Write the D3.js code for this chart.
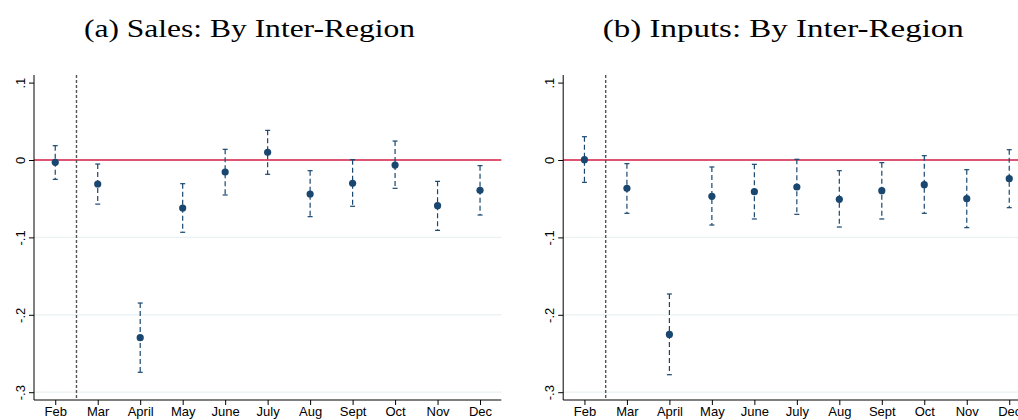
<!DOCTYPE html>
<html>
<head>
<meta charset="utf-8">
<script src="https://cdn.jsdelivr.net/npm/d3@7"></script>
<style>
  body { margin: 0; background: #fff; }
  svg { display: block; }
  .tick text { font-family: "Liberation Sans", Arial, sans-serif; font-size: 13px; fill: #000; }
  .title { font-family: "Liberation Serif", "DejaVu Serif", serif; font-size: 26px; fill: #000; }
</style>
</head>
<body>
<div id="chart"></div>
<script>
var months = ["Feb", "Mar", "April", "May", "June", "July", "Aug", "Sept", "Oct", "Nov", "Dec"];
var yTicks = [0.1, 0, -0.1, -0.2, -0.3];
var yTickLabels = [".1", "0", "-.1", "-.2", "-.3"];

// panel (a) sales
var salesEst = [-0.003, -0.031, -0.2295, -0.062, -0.0155, 0.0099, -0.0439, -0.0301, -0.0065, -0.059, -0.0392];
var salesHi  = [0.0185, -0.0052, -0.1848, -0.0306, 0.0138, 0.0383, -0.0138, 0.0004, 0.0245, -0.0276, -0.0073];
var salesLo  = [-0.025, -0.057, -0.2743, -0.0934, -0.0452, -0.0185, -0.0732, -0.0598, -0.0366, -0.0909, -0.0711];

// panel (b) inputs
var inputsEst = [0.0004, -0.0366, -0.2253, -0.0469, -0.0409, -0.0349, -0.0508, -0.0396, -0.0319, -0.05, -0.0241];
var inputsHi  = [0.0301, -0.0047, -0.1731, -0.009, -0.0056, 0.0009, -0.0138, -0.0034, 0.0056, -0.0125, 0.0133];
var inputsLo  = [-0.0289, -0.0689, -0.2774, -0.084, -0.0762, -0.0702, -0.0866, -0.0762, -0.0689, -0.0874, -0.0616];

var W = 1018, H = 420;
var navy = "#1a476f";

var svg = d3.select("#chart").append("svg")
    .attr("width", W)
    .attr("height", H);

var panels = [
  { title: "(a) Sales: By Inter-Region", titleX: 249.5, titleW: 331, left: 34, est: salesEst, hi: salesHi, lo: salesLo },
  { title: "(b) Inputs: By Inter-Region", titleX: 783.3, titleW: 361, left: 563.2, est: inputsEst, hi: inputsHi, lo: inputsLo }
];

var y = d3.scaleLinear().domain([0, -0.1]).range([160, 237.4]);
var plotTop = 75, plotBottom = 400;

panels.forEach(function (p) {
  var step = 42.48;
  var x = d3.scaleLinear()
      .domain([0.5, 11.5])
      .range([p.left, p.left + step * 11]);
  var rightEdge = Math.min(x(11.5), W);

  var data = months.map(function (m, i) {
    return { month: m, idx: i + 1, est: p.est[i], hi: p.hi[i], lo: p.lo[i] };
  });

  var g = svg.append("g");

  svg.append("text")
      .attr("class", "title")
      .attr("x", p.titleX)
      .attr("y", 37)
      .attr("text-anchor", "middle")
      .attr("textLength", p.titleW)
      .attr("lengthAdjust", "spacingAndGlyphs")
      .text(p.title);

  // gridlines
  g.selectAll(".grid")
      .data(yTicks.filter(function (t) { return t < 0; }))
      .enter()
      .append("line")
      .attr("x1", p.left)
      .attr("x2", rightEdge)
      .attr("y1", function (d) { return y(d); })
      .attr("y2", function (d) { return y(d); })
      .attr("stroke", "#e9f1f2")
      .attr("stroke-width", 1.2);

  // zero line
  g.append("line")
      .attr("x1", p.left)
      .attr("x2", rightEdge)
      .attr("y1", y(0))
      .attr("y2", y(0))
      .attr("stroke", "#d31c46")
      .attr("stroke-width", 1.3);

  // vertical dashed line between Feb and Mar
  g.append("line")
      .attr("x1", x(1.5))
      .attr("x2", x(1.5))
      .attr("y1", plotTop)
      .attr("y2", plotBottom)
      .attr("stroke", "#555")
      .attr("stroke-width", 1.4)
      .attr("stroke-dasharray", "3,2");

  // y axis, labels rotated like the original
  var yAxis = d3.axisLeft(y)
      .tickValues(yTicks)
      .tickFormat(function (d, i) { return yTickLabels[i]; })
      .tickSize(5);

  var gy = g.append("g")
      .attr("transform", "translate(" + p.left + ",0)")
      .call(yAxis);
  gy.select(".domain").attr("d", "M0," + plotTop + "V" + plotBottom).attr("stroke", "#000");
  gy.selectAll(".tick line").attr("stroke", "#000");
  gy.selectAll(".tick text")
      .attr("x", 0)
      .attr("y", 0)
      .attr("dy", "0.35em")
      .attr("text-anchor", "middle")
      .attr("transform", "translate(-14,0) rotate(-90)");

  // x axis
  var xAxis = d3.axisBottom(x)
      .tickValues(d3.range(1, 12))
      .tickFormat(function (d) { return months[d - 1]; })
      .tickSize(5)
      .tickPadding(2);

  var gx = g.append("g")
      .attr("transform", "translate(0," + plotBottom + ")")
      .call(xAxis);
  gx.select(".domain").attr("d", "M" + p.left + ",0H" + rightEdge).attr("stroke", "#000");
  gx.selectAll(".tick line").attr("stroke", "#000");

  // error bars
  var bars = g.selectAll(".bar")
      .data(data)
      .enter()
      .append("g");

  bars.append("line")
      .attr("x1", function (d) { return x(d.idx); })
      .attr("x2", function (d) { return x(d.idx); })
      .attr("y1", function (d) { return y(d.hi); })
      .attr("y2", function (d) { return y(d.lo); })
      .attr("stroke", navy)
      .attr("stroke-width", 1.2)
      .attr("stroke-dasharray", "5,3");

  ["hi", "lo"].forEach(function (k) {
    bars.append("line")
        .attr("x1", function (d) { return x(d.idx) - 2.5; })
        .attr("x2", function (d) { return x(d.idx) + 2.5; })
        .attr("y1", function (d) { return y(d[k]); })
        .attr("y2", function (d) { return y(d[k]); })
        .attr("stroke", navy)
        .attr("stroke-width", 1.2);
  });

  bars.append("circle")
      .attr("cx", function (d) { return x(d.idx); })
      .attr("cy", function (d) { return y(d.est); })
      .attr("r", 3.6)
      .attr("fill", navy);
});
</script>
</body>
</html>
